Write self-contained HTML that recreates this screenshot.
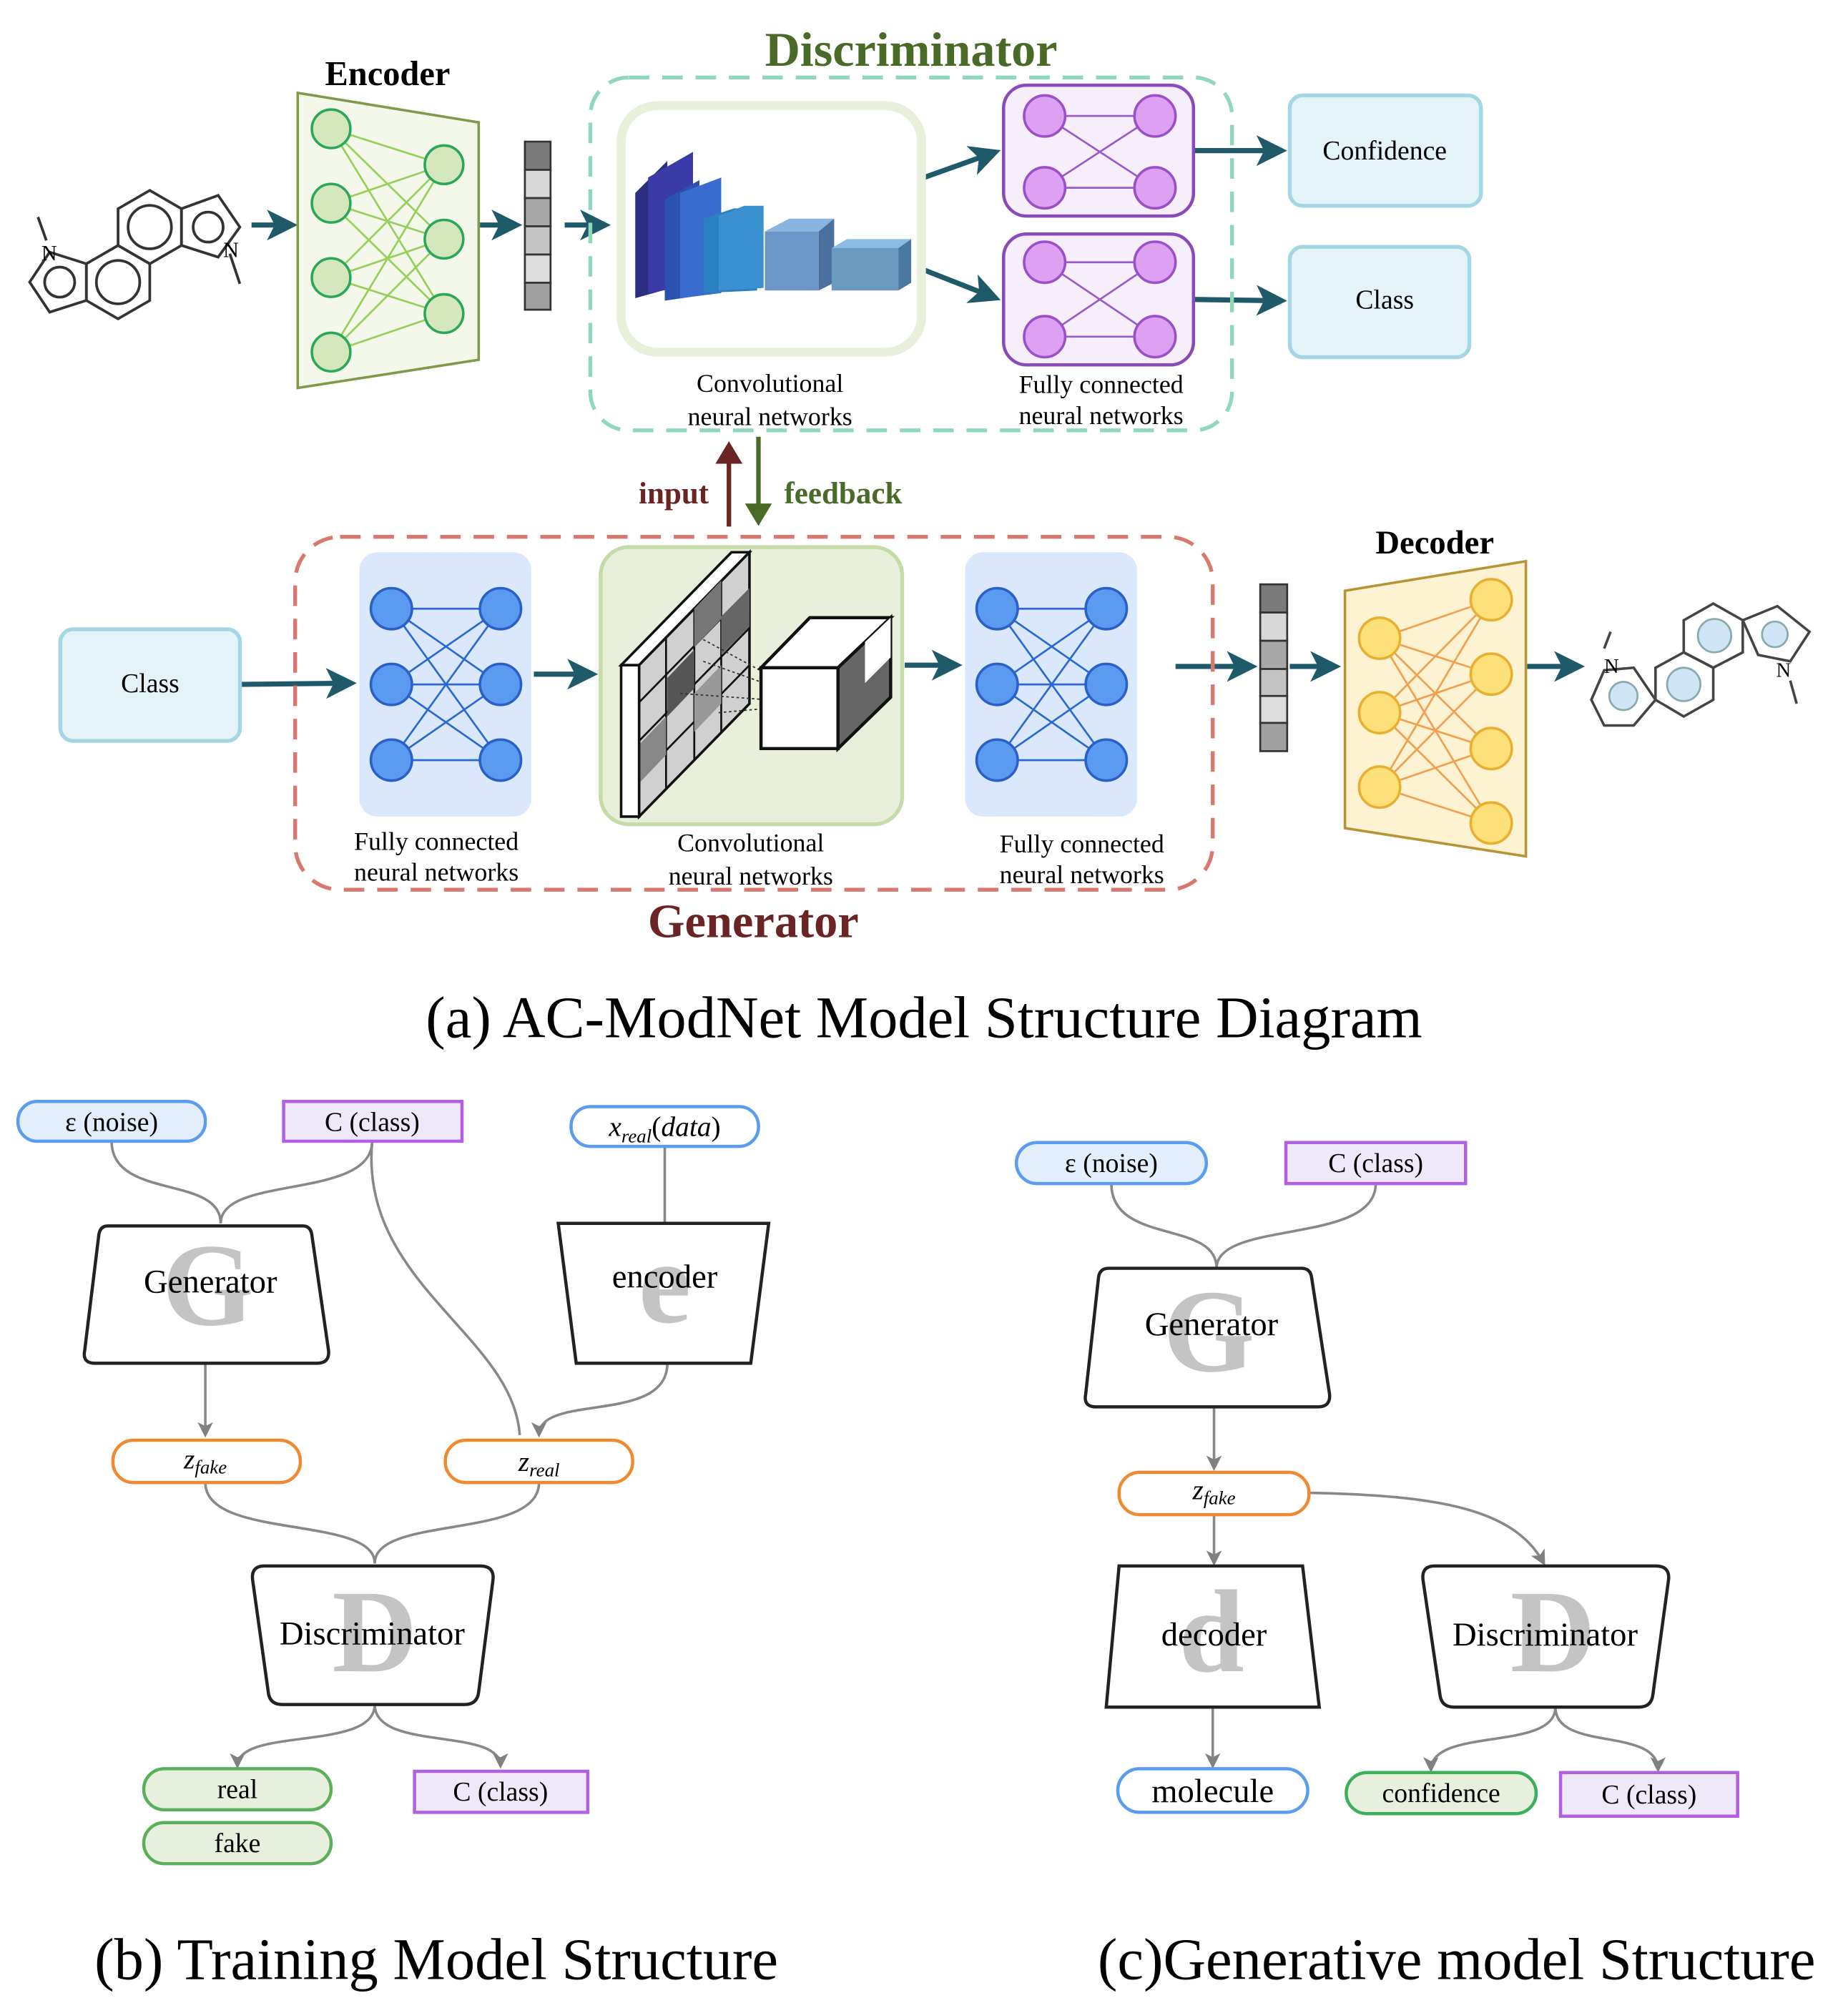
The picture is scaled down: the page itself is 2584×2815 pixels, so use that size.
<!DOCTYPE html>
<html><head><meta charset="utf-8"><style>
html,body{margin:0;padding:0;background:#fff}
svg{display:block}
text{font-family:"Liberation Serif",serif}
</style></head><body>
<svg width="2584" height="2815" viewBox="0 0 1440 1568" xmlns="http://www.w3.org/2000/svg">
<defs>
<marker id="ta" markerWidth="6" markerHeight="6" refX="5" refY="3" orient="auto" markerUnits="strokeWidth"><path d="M0,0 L6,3 L0,6 L1.5,3 z" fill="#1f5a6a"/></marker>
<marker id="ga" markerWidth="12" markerHeight="12" refX="10" refY="6" orient="auto" markerUnits="userSpaceOnUse"><path d="M0,0 L12,6 L0,12 L3,6 z" fill="#808080"/></marker>
<marker id="ra" markerWidth="5" markerHeight="6" refX="4" refY="3" orient="auto" markerUnits="strokeWidth"><path d="M0,0 L5,3 L0,6 z" fill="#6b2424"/></marker>
<marker id="gra" markerWidth="5" markerHeight="6" refX="4" refY="3" orient="auto" markerUnits="strokeWidth"><path d="M0,0 L5,3 L0,6 z" fill="#4a6a28"/></marker>
</defs>

<!-- ===== (a) ===== -->
<text x="710" y="51" font-size="38" font-weight="bold" fill="#4a6a28" text-anchor="middle">Discriminator</text>
<text x="302" y="66" font-size="27" font-weight="bold" text-anchor="middle">Encoder</text>

<!-- left molecule -->
<g transform="translate(105,200) scale(1.3) translate(-105,-200)">
<g fill="none" stroke="#333" stroke-width="1.6">
<polygon points="95,193 114,204 114,226 95,237 76,226 76,204"/>
<polygon points="114,160 133,171 133,193 114,204 95,193 95,171"/>
<polygon points="133,171 155,163 168,182 155,200 133,193"/>
<polygon points="76,204 54,197 42,215 54,233 76,226"/>
<circle cx="95" cy="215" r="13"/><circle cx="114" cy="182" r="13"/><circle cx="149" cy="182" r="9"/><circle cx="60" cy="215" r="9"/>
<line x1="52" y1="190" x2="47" y2="176"/><line x1="162" y1="198" x2="168" y2="216"/>
</g>
<text x="49" y="202" font-size="13">N</text><text x="158" y="200" font-size="13">N</text>
</g>

<g stroke="#1f5a6a" stroke-width="4" fill="none">
<line x1="196" y1="175" x2="228" y2="175" marker-end="url(#ta)"/>
<line x1="374" y1="175" x2="403" y2="175" marker-end="url(#ta)"/>
<line x1="440" y1="175" x2="472" y2="175" marker-end="url(#ta)"/>
<line x1="720" y1="138" x2="776" y2="118" marker-end="url(#ta)"/>
<line x1="720" y1="210" x2="776" y2="232" marker-end="url(#ta)"/>
<line x1="930" y1="117" x2="999" y2="117" marker-end="url(#ta)"/>
<line x1="930" y1="233" x2="999" y2="234" marker-end="url(#ta)"/>
<line x1="187" y1="533" x2="274" y2="532" marker-end="url(#ta)"/>
<line x1="416" y1="525" x2="462" y2="525" marker-end="url(#ta)"/>
<line x1="705" y1="518" x2="746" y2="518" marker-end="url(#ta)"/>
<line x1="916" y1="519" x2="976" y2="519" marker-end="url(#ta)"/>
<line x1="1005" y1="519" x2="1041" y2="519" marker-end="url(#ta)"/>
<line x1="1190" y1="519" x2="1231" y2="519" marker-end="url(#ta)"/>
</g>

<!-- encoder -->
<polygon points="232,72 373,95 373,280 232,302" fill="#f3f8ea" stroke="#7f9a48" stroke-width="2"/>
<g stroke="#96d05a" stroke-width="1.5">
<path d="M258,100L346,128M258,100L346,186M258,100L346,244M258,158L346,128M258,158L346,186M258,158L346,244M258,216L346,128M258,216L346,186M258,216L346,244M258,274L346,128M258,274L346,186M258,274L346,244"/>
</g>
<g fill="#d4e6bc" stroke="#2aa858" stroke-width="2">
<circle cx="258" cy="100" r="15"/><circle cx="258" cy="158" r="15"/><circle cx="258" cy="216" r="15"/><circle cx="258" cy="274" r="15"/>
<circle cx="346" cy="128" r="15"/><circle cx="346" cy="186" r="15"/><circle cx="346" cy="244" r="15"/>
</g>
<!-- vector -->
<g stroke="#333" stroke-width="1.5">
<rect x="409" y="110" width="20" height="22" fill="#7a7a7a"/><rect x="409" y="132" width="20" height="22" fill="#d8d8d8"/><rect x="409" y="154" width="20" height="22" fill="#a8a8a8"/><rect x="409" y="176" width="20" height="22" fill="#c4c4c4"/><rect x="409" y="198" width="20" height="22" fill="#dcdcdc"/><rect x="409" y="220" width="20" height="21" fill="#a0a0a0"/>
</g>

<!-- discriminator box -->
<rect x="460" y="60" width="500" height="275" rx="30" fill="none" stroke="#90d8bb" stroke-width="3" stroke-dasharray="16,10"/>
<rect x="484" y="82" width="234" height="192" rx="28" fill="#fff" stroke="#e8f0dc" stroke-width="7"/>
<!-- blocks -->
<polygon points="495,150 520,125 520,225 495,232" fill="#2d2d82"/><polygon points="505,138 540,118 540,222 505,228" fill="#3a3aa8"/>
<polygon points="518,155 545,140 545,230 518,234" fill="#2c52b0"/><polygon points="530,150 562,138 562,228 530,232" fill="#3a6cd0"/>
<polygon points="548,170 572,162 590,162 590,226 548,228" fill="#2a80c0"/><polygon points="560,168 580,160 595,160 595,224 560,226" fill="#3a90d0"/>
<rect x="596" y="180" width="42" height="46" fill="#6a96c8"/><polygon points="596,180 615,170 650,170 638,180" fill="#8ab4e0"/><polygon points="638,180 650,170 650,220 638,226" fill="#4a70a0"/>
<rect x="648" y="193" width="52" height="33" fill="#6a9ac0"/><polygon points="648,193 660,186 710,186 700,193" fill="#8abce4"/><polygon points="700,193 710,186 710,220 700,226" fill="#4a78a0"/>
<text x="600" y="305" font-size="20" text-anchor="middle">Convolutional</text>
<text x="600" y="331" font-size="20" text-anchor="middle">neural networks</text>

<!-- purple FC -->
<g>
<rect x="782" y="66" width="148" height="102" rx="18" fill="#f6effb" stroke="#8a4ab8" stroke-width="2.5"/>
<rect x="782" y="182" width="148" height="102" rx="18" fill="#f6effb" stroke="#8a4ab8" stroke-width="2.5"/>
<g stroke="#9a5ac8" stroke-width="1.5"><path d="M814,90L900,90M814,146L900,146M814,90L900,146M814,146L900,90M814,204L900,204M814,262L900,262M814,204L900,262M814,262L900,204"/></g>
<g fill="#dda0f2" stroke="#9a50c8" stroke-width="2"><circle cx="814" cy="90" r="16"/><circle cx="900" cy="90" r="16"/><circle cx="814" cy="146" r="16"/><circle cx="900" cy="146" r="16"/><circle cx="814" cy="204" r="16"/><circle cx="900" cy="204" r="16"/><circle cx="814" cy="262" r="16"/><circle cx="900" cy="262" r="16"/></g>
</g>
<text x="858" y="306" font-size="20" text-anchor="middle">Fully connected</text>
<text x="858" y="330" font-size="20" text-anchor="middle">neural networks</text>

<rect x="1005" y="74" width="149" height="86" rx="10" fill="#e4f3f7" stroke="#a4d6e4" stroke-width="3"/>
<text x="1079" y="124" font-size="21" text-anchor="middle">Confidence</text>
<rect x="1005" y="192" width="140" height="86" rx="10" fill="#e4f3f7" stroke="#a4d6e4" stroke-width="3"/>
<text x="1079" y="240" font-size="21" text-anchor="middle">Class</text>

<!-- input/feedback -->
<line x1="568" y1="410" x2="568" y2="347" stroke="#6b2424" stroke-width="3.5" marker-end="url(#ra)"/>
<line x1="591" y1="340" x2="591" y2="406" stroke="#4a6a28" stroke-width="3.5" marker-end="url(#gra)"/>
<text x="525" y="392" font-size="24" font-weight="bold" fill="#6b2424" text-anchor="middle">input</text>
<text x="657" y="392" font-size="24" font-weight="bold" fill="#4a6a28" text-anchor="middle">feedback</text>

<!-- generator -->
<rect x="230" y="418" width="715" height="275" rx="35" fill="none" stroke="#d8786e" stroke-width="3" stroke-dasharray="16,10"/>
<rect x="47" y="490" width="140" height="87" rx="10" fill="#e4f3f7" stroke="#a4d6e4" stroke-width="3"/>
<text x="117" y="539" font-size="21" text-anchor="middle">Class</text>

<g id="bfc">
<rect x="280" y="430" width="134" height="206" rx="14" fill="#dbe8fb"/>
<g stroke="#2a6ad0" stroke-width="1.5"><path d="M305,474L390,474M305,474L390,533M305,474L390,592M305,533L390,474M305,533L390,533M305,533L390,592M305,592L390,474M305,592L390,533M305,592L390,592"/></g>
<g fill="#5a9af0" stroke="#2a60c8" stroke-width="2"><circle cx="305" cy="474" r="16"/><circle cx="390" cy="474" r="16"/><circle cx="305" cy="533" r="16"/><circle cx="390" cy="533" r="16"/><circle cx="305" cy="592" r="16"/><circle cx="390" cy="592" r="16"/></g>
</g>
<use href="#bfc" transform="translate(472,0)"/>
<text x="340" y="662" font-size="20" text-anchor="middle">Fully connected</text>
<text x="340" y="686" font-size="20" text-anchor="middle">neural networks</text>
<text x="843" y="664" font-size="20" text-anchor="middle">Fully connected</text>
<text x="843" y="688" font-size="20" text-anchor="middle">neural networks</text>

<rect x="468" y="426" width="235" height="216" rx="22" fill="#e8f0dc" stroke="#c5dca8" stroke-width="3"/>
<!-- grid -->
<polygon points="484,518 570,430 584,430 498,518" fill="#fff" stroke="#111" stroke-width="2"/>
<polygon points="498,518 584,430 584,548 498,636" fill="#d0d0d0" stroke="#111" stroke-width="2"/>
<g stroke="#111" stroke-width="1.5"><path d="M519,496L519,614M541,474L541,592M562,452L562,570M498,547L584,459M498,577L584,489M498,606L584,518"/></g>
<polygon points="520,528 541,506 541,536 520,558" fill="#555"/><polygon points="541,474 562,452 562,482 541,504" fill="#777"/><polygon points="562,480 584,458 584,488 562,510" fill="#666"/><polygon points="498,580 519,558 519,588 498,610" fill="#888"/><polygon points="541,540 562,518 562,548 541,570" fill="#999"/>
<polygon points="484,518 498,518 498,636 484,636" fill="#fff" stroke="#111" stroke-width="2"/>
<g stroke="#333" stroke-dasharray="2,2" fill="none"><path d="M548,498L640,548M548,515L640,548M530,540L640,548M560,555L640,548"/></g>
<polygon points="593,520 653,520 653,583 593,583" fill="#fff" stroke="#111" stroke-width="2.5"/>
<polygon points="593,520 631,481 694,481 653,520" fill="#fff" stroke="#111" stroke-width="2.5"/>
<polygon points="653,520 694,481 694,543 653,583" fill="#666" stroke="#111" stroke-width="2.5"/>
<polygon points="674,500 694,481 694,512 674,532" fill="#fff"/>
<text x="585" y="663" font-size="20" text-anchor="middle">Convolutional</text>
<text x="585" y="689" font-size="20" text-anchor="middle">neural networks</text>
<text x="587" y="730" font-size="37" font-weight="bold" fill="#6b2424" text-anchor="middle">Generator</text>

<!-- vector 2 -->
<g stroke="#333" stroke-width="1.5">
<rect x="982" y="455" width="21" height="22" fill="#7a7a7a"/><rect x="982" y="477" width="21" height="22" fill="#d8d8d8"/><rect x="982" y="499" width="21" height="22" fill="#a8a8a8"/><rect x="982" y="521" width="21" height="21" fill="#c4c4c4"/><rect x="982" y="542" width="21" height="21" fill="#dcdcdc"/><rect x="982" y="563" width="21" height="22" fill="#a0a0a0"/>
</g>

<!-- decoder -->
<text x="1118" y="431" font-size="26" font-weight="bold" text-anchor="middle">Decoder</text>
<polygon points="1048,460 1189,437 1189,667 1048,645" fill="#fdf3d2" stroke="#b89438" stroke-width="2"/>
<g stroke="#f0a050" stroke-width="1.5"><path d="M1075,497L1162,467M1075,497L1162,525M1075,497L1162,583M1075,497L1162,641M1075,555L1162,467M1075,555L1162,525M1075,555L1162,583M1075,555L1162,641M1075,613L1162,467M1075,613L1162,525M1075,613L1162,583M1075,613L1162,641"/></g>
<g fill="#fde07a" stroke="#e8b030" stroke-width="2"><circle cx="1075" cy="497" r="16"/><circle cx="1075" cy="555" r="16"/><circle cx="1075" cy="613" r="16"/><circle cx="1162" cy="467" r="16"/><circle cx="1162" cy="525" r="16"/><circle cx="1162" cy="583" r="16"/><circle cx="1162" cy="641" r="16"/></g>

<!-- right molecule -->
<g fill="none" stroke="#444" stroke-width="2">
<polygon points="1240,545 1250,522 1273,520 1290,545 1273,565 1250,565"/>
<polygon points="1290,520 1312,508 1335,520 1335,545 1312,558 1290,545"/>
<polygon points="1312,508 1312,483 1335,470 1358,483 1358,508 1335,520"/>
<polygon points="1358,483 1385,472 1410,492 1395,515 1370,510"/>
<line x1="1250" y1="505" x2="1255" y2="492"/><line x1="1395" y1="530" x2="1400" y2="548"/>
</g>
<g fill="#cfe4f4" stroke="#8aa" stroke-width="1.5"><circle cx="1265" cy="542" r="11"/><circle cx="1312" cy="533" r="13"/><circle cx="1336" cy="495" r="13"/><circle cx="1383" cy="494" r="10"/></g>
<text x="1250" y="524" font-size="16">N</text><text x="1384" y="527" font-size="16">N</text>

<text x="720" y="808" font-size="46" text-anchor="middle">(a) AC-ModNet Model Structure Diagram</text>

<!-- ===== (b) ===== -->
<g fill="none" stroke="#888" stroke-width="2">
<path d="M87,889 C87,935 172,915 172,953"/>
<path d="M290,889 C290,935 172,915 172,953"/>
<path d="M290,889 C280,1000 400,1040 405,1118"/>
<path d="M518,893 L518,953"/>
<path d="M160,1062 L160,1118" marker-end="url(#ga)"/>
<path d="M520,1062 C520,1110 420,1085 420,1118" marker-end="url(#ga)"/>
<path d="M160,1155 C160,1200 292,1180 292,1218"/>
<path d="M420,1155 C420,1200 292,1180 292,1218"/>
<path d="M292,1328 C292,1365 185,1345 185,1376" marker-end="url(#ga)"/>
<path d="M292,1328 C292,1365 390,1345 390,1376" marker-end="url(#ga)"/>
</g>
<rect x="14" y="858" width="146" height="31" rx="15" fill="#e2eefc" stroke="#5a9cf0" stroke-width="2.5"/>
<text x="87" y="881" font-size="21" text-anchor="middle">ε (noise)</text>
<rect x="221" y="858" width="139" height="31" fill="#efe8f8" stroke="#b060e0" stroke-width="2.5"/>
<text x="290" y="881" font-size="21" text-anchor="middle">C (class)</text>
<rect x="445" y="862" width="146" height="31" rx="15" fill="#fff" stroke="#5a9cf0" stroke-width="2.5"/>
<text x="518" y="885" font-size="22" text-anchor="middle" font-style="italic">x<tspan font-size="15" dy="5">real</tspan><tspan dy="-5" font-style="normal">(</tspan>data<tspan font-style="normal">)</tspan></text>

<path d="M84,955 L236,955 Q242,955 243,962 L256,1052 Q257,1062 247,1062 L74,1062 Q64,1062 66,1052 L77,962 Q78,955 84,955 Z" fill="#fff" stroke="#222" stroke-width="2.5"/>
<text x="162" y="1032" font-size="92" font-weight="bold" fill="#c4c4c4" text-anchor="middle">G</text>
<text x="164" y="1007" font-size="26" text-anchor="middle">Generator</text>
<polygon points="435,953 599,953 585,1062 449,1062" fill="#fff" stroke="#222" stroke-width="2.5"/>
<text x="518" y="1030" font-size="92" font-weight="bold" fill="#c4c4c4" text-anchor="middle">e</text>
<text x="518" y="1003" font-size="26" text-anchor="middle">encoder</text>

<rect x="88" y="1122" width="146" height="33" rx="16" fill="#fff" stroke="#f08a30" stroke-width="2.5"/>
<text x="160" y="1144" font-size="22" font-style="italic" text-anchor="middle">z<tspan font-size="15" dy="4">fake</tspan></text>
<rect x="347" y="1122" width="146" height="33" rx="16" fill="#fff" stroke="#f08a30" stroke-width="2.5"/>
<text x="420" y="1146" font-size="22" font-style="italic" text-anchor="middle">z<tspan font-size="15" dy="4">real</tspan></text>

<path d="M206,1220 L374,1220 Q386,1220 384,1232 L373,1318 Q372,1328 362,1328 L220,1328 Q210,1328 209,1318 L197,1232 Q195,1220 206,1220 Z" fill="#fff" stroke="#222" stroke-width="2.5"/>
<text x="292" y="1302" font-size="92" font-weight="bold" fill="#c4c4c4" text-anchor="middle">D</text>
<text x="290" y="1281" font-size="26" text-anchor="middle">Discriminator</text>

<rect x="112" y="1378" width="146" height="32" rx="16" fill="#e6f0dc" stroke="#5ab05a" stroke-width="2.5"/>
<text x="185" y="1401" font-size="21" text-anchor="middle">real</text>
<rect x="112" y="1420" width="146" height="32" rx="16" fill="#e6f0dc" stroke="#5ab05a" stroke-width="2.5"/>
<text x="185" y="1443" font-size="21" text-anchor="middle">fake</text>
<rect x="323" y="1380" width="135" height="32" fill="#efe8f8" stroke="#b060e0" stroke-width="2.5"/>
<text x="390" y="1403" font-size="21" text-anchor="middle">C (class)</text>

<text x="340" y="1542" font-size="46" text-anchor="middle">(b) Training Model Structure</text>

<!-- ===== (c) ===== -->
<g fill="none" stroke="#888" stroke-width="2">
<path d="M866,922 C866,970 948,950 948,988"/>
<path d="M1072,922 C1072,970 948,950 948,988"/>
<path d="M946,1096 L946,1144" marker-end="url(#ga)"/>
<path d="M946,1180 L946,1218" marker-end="url(#ga)"/>
<path d="M1020,1163 C1120,1165 1180,1175 1203,1218" marker-end="url(#ga)"/>
<path d="M945,1330 L945,1376" marker-end="url(#ga)"/>
<path d="M1212,1330 C1212,1365 1115,1345 1115,1379" marker-end="url(#ga)"/>
<path d="M1212,1330 C1212,1365 1292,1345 1292,1379" marker-end="url(#ga)"/>
</g>
<rect x="792" y="890" width="148" height="32" rx="16" fill="#e2eefc" stroke="#5a9cf0" stroke-width="2.5"/>
<text x="866" y="913" font-size="21" text-anchor="middle">ε (noise)</text>
<rect x="1002" y="890" width="140" height="32" fill="#efe8f8" stroke="#b060e0" stroke-width="2.5"/>
<text x="1072" y="913" font-size="21" text-anchor="middle">C (class)</text>

<path d="M864,988 L1014,988 Q1021,988 1022,995 L1036,1086 Q1037,1096 1027,1096 L854,1096 Q844,1096 846,1086 L856,995 Q857,988 864,988 Z" fill="#fff" stroke="#222" stroke-width="2.5"/>
<text x="942" y="1068" font-size="92" font-weight="bold" fill="#c4c4c4" text-anchor="middle">G</text>
<text x="944" y="1040" font-size="26" text-anchor="middle">Generator</text>

<rect x="872" y="1147" width="148" height="33" rx="16" fill="#fff" stroke="#f08a30" stroke-width="2.5"/>
<text x="946" y="1168" font-size="22" font-style="italic" text-anchor="middle">z<tspan font-size="15" dy="4">fake</tspan></text>

<polygon points="872,1220 1015,1220 1028,1330 862,1330" fill="#fff" stroke="#222" stroke-width="2.5"/>
<text x="944" y="1302" font-size="92" font-weight="bold" fill="#c4c4c4" text-anchor="middle">d</text>
<text x="946" y="1282" font-size="26" text-anchor="middle">decoder</text>

<path d="M1118,1220 L1290,1220 Q1302,1220 1300,1232 L1288,1320 Q1287,1330 1277,1330 L1133,1330 Q1123,1330 1122,1320 L1109,1232 Q1107,1220 1118,1220 Z" fill="#fff" stroke="#222" stroke-width="2.5"/>
<text x="1210" y="1302" font-size="92" font-weight="bold" fill="#c4c4c4" text-anchor="middle">D</text>
<text x="1204" y="1282" font-size="26" text-anchor="middle">Discriminator</text>

<rect x="871" y="1378" width="148" height="34" rx="17" fill="#fff" stroke="#5a9cf0" stroke-width="2.5"/>
<text x="945" y="1404" font-size="26" text-anchor="middle">molecule</text>
<rect x="1049" y="1381" width="148" height="32" rx="16" fill="#e6f0dc" stroke="#3ab05a" stroke-width="2.5"/>
<text x="1123" y="1404" font-size="21" text-anchor="middle">confidence</text>
<rect x="1216" y="1381" width="138" height="34" fill="#efe8f8" stroke="#b060e0" stroke-width="2.5"/>
<text x="1285" y="1405" font-size="21" text-anchor="middle">C (class)</text>

<text x="1135" y="1542" font-size="46" text-anchor="middle">(c)Generative model Structure</text>
</svg>
</body></html>
